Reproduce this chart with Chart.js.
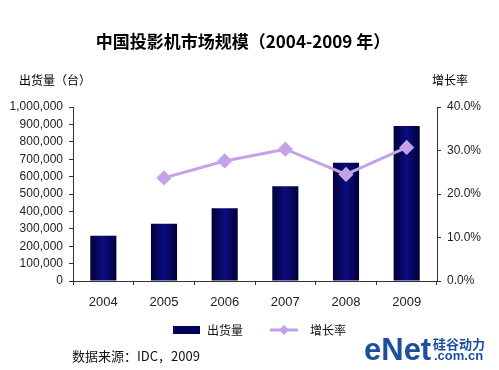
<!DOCTYPE html>
<html>
<head>
<meta charset="utf-8">
<script src="https://cdn.jsdelivr.net/npm/chart.js@4/dist/chart.umd.min.js"></script>
<style>
  html, body { margin: 0; padding: 0; background: #fff; }
  #wrap { position: relative; width: 499px; height: 370px; }
</style>
</head>
<body>
<div id="wrap"><canvas id="projChart" width="499" height="370"></canvas></div>
<script>
const years = ['2004', '2005', '2006', '2007', '2008', '2009'];
const shipments = [260000, 329000, 418000, 544000, 680000, 891000];
const growthRate = [null, 23.7, 27.6, 30.3, 24.5, 30.7];
const leftTicks = [0, 100000, 200000, 300000, 400000, 500000, 600000, 700000, 800000, 900000, 1000000];
const rightTicks = [0, 10, 20, 30, 40];

const cjk = '"Noto Sans CJK SC", sans-serif';
const latin = '"Liberation Sans", Arial, sans-serif';

function barFill(ctx) {
    const chart = ctx.chart;
    if (!chart.scales || !chart.scales.x || ctx.dataIndex === undefined) return '#00005a';
    const cx = chart.scales.x.getPixelForValue(ctx.dataIndex);
    if (!isFinite(cx)) return '#00005a';
    const half = 13;
    const g = chart.ctx.createLinearGradient(cx - half, 0, cx + half, 0);
    g.addColorStop(0, '#000038');
    g.addColorStop(0.5, '#0c0c80');
    g.addColorStop(1, '#000038');
    return g;
}

const extraText = {
    id: 'extraText',
    afterDraw(chart) {
        const c = chart.ctx;
        c.save();
        c.fillStyle = '#000';
        c.textBaseline = 'middle';
        c.textAlign = 'center';
        c.font = 'bold 17px ' + cjk;
        c.fillText('中国投影机市场规模（2004-2009 年）', 243, 42);

        c.font = '12px ' + cjk;
        c.textAlign = 'left';
        c.fillText('出货量（台）', 19, 80);
        c.fillText('增长率', 432, 80);

        // legend
        c.fillStyle = '#00005a';
        c.fillRect(173, 326, 27, 8);
        c.fillStyle = '#111';
        c.fillText('出货量', 207, 330);
        c.strokeStyle = '#c3a2ea';
        c.lineWidth = 3;
        c.beginPath();
        c.moveTo(270, 330);
        c.lineTo(298, 330);
        c.stroke();
        c.fillStyle = '#c3a2ea';
        c.beginPath();
        c.moveTo(284, 325); c.lineTo(289, 330); c.lineTo(284, 335); c.lineTo(279, 330);
        c.closePath();
        c.fill();
        c.fillStyle = '#111';
        c.fillText('增长率', 310, 330);

        c.font = '13px ' + cjk;
        c.fillText('数据来源：IDC，2009', 72, 356);

        // watermark
        c.fillStyle = '#1c4f9f';
        c.font = 'bold 31px ' + latin;
        c.textBaseline = 'alphabetic';
        c.fillText('eNet', 364, 360);
        c.font = 'bold 13px ' + cjk;
        c.fillText('硅谷动力', 433, 349);
        c.font = 'bold 13px ' + latin;
        c.fillText('.com.cn', 434, 360);
        c.restore();
    }
};

new Chart(document.getElementById('projChart'), {
    data: {
        labels: years,
        datasets: [
            {
                type: 'line',
                label: '增长率',
                data: growthRate,
                yAxisID: 'y1',
                borderColor: '#c3a2ea',
                backgroundColor: '#c3a2ea',
                borderWidth: 3,
                pointStyle: 'rectRot',
                pointRadius: 5.5,
                tension: 0,
                order: 0
            },
            {
                type: 'bar',
                label: '出货量',
                data: shipments,
                yAxisID: 'y',
                backgroundColor: barFill,
                barPercentage: 0.43,
                categoryPercentage: 1,
                order: 1
            }
        ]
    },
    options: {
        responsive: false,
        animation: false,
        layout: { padding: { top: 107, bottom: 0, left: 0, right: 0 }, autoPadding: false },
        plugins: { legend: { display: false }, tooltip: { enabled: false } },
        scales: {
            x: {
                offset: true,
                grid: { display: true, drawOnChartArea: false, offset: true, tickLength: 4, color: '#333' },
                border: { color: '#333' },
                ticks: { color: '#222', font: { family: latin, size: 13 }, padding: 10 },
                afterFit: s => { s.height = 89; }
            },
            y: {
                position: 'left',
                min: 0, max: 1000000,
                afterBuildTicks: s => { s.ticks = leftTicks.map(v => ({ value: v })); },
                grid: { drawOnChartArea: false, tickLength: 4, color: '#333' },
                border: { color: '#333' },
                ticks: {
                    color: '#222', font: { family: latin, size: 12 }, padding: 6,
                    callback: v => v.toLocaleString('en-US')
                },
                afterFit: s => { s.width = 73; }
            },
            y1: {
                position: 'right',
                min: 0, max: 40,
                afterBuildTicks: s => { s.ticks = rightTicks.map(v => ({ value: v })); },
                grid: { drawOnChartArea: false, tickLength: 4, color: '#333' },
                border: { color: '#333' },
                ticks: {
                    color: '#222', font: { family: latin, size: 12 }, padding: 6,
                    callback: v => v.toFixed(1) + '%'
                },
                afterFit: s => { s.width = 62; }
            }
        }
    },
    plugins: [extraText]
});
</script>
</body>
</html>
